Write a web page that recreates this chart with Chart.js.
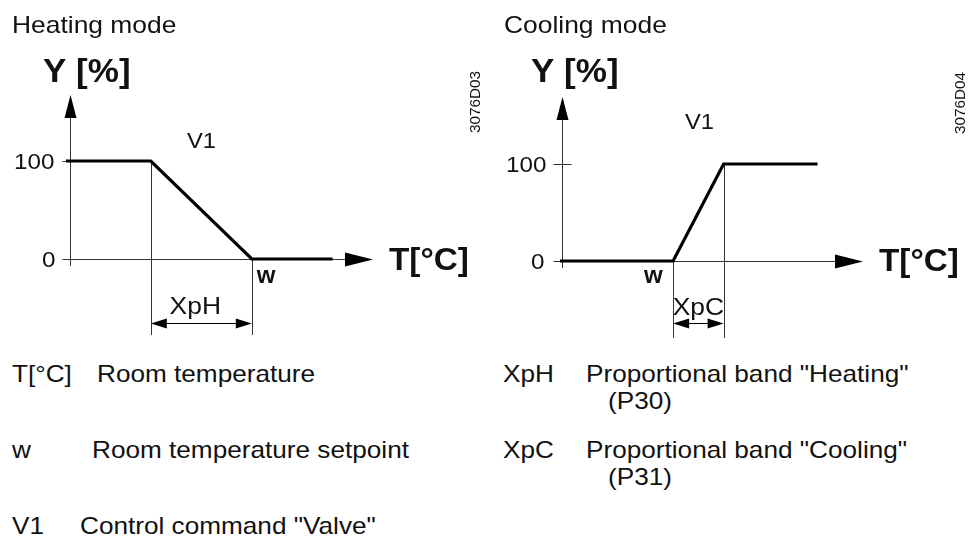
<!DOCTYPE html>
<html>
<head>
<meta charset="utf-8">
<script src="https://cdn.jsdelivr.net/npm/chart.js@4/dist/chart.umd.min.js"></script>
<style>
  html, body { margin: 0; padding: 0; background: #fff; width: 978px; height: 538px; overflow: hidden; }
  #wrap { position: relative; width: 978px; height: 538px; font-family: "Liberation Sans", Arial, sans-serif; color: #111; }
  #wrap canvas { position: absolute; top: 0; }
  .leg { position: absolute; font-size: 24px; line-height: 24px; white-space: nowrap; transform-origin: 0 0; transform: scaleX(1.09); }
</style>
</head>
<body>
<div id="wrap">
  <canvas id="heat" width="489" height="340" style="left:0"></canvas>
  <canvas id="cool" width="488" height="340" style="left:490px"></canvas>
</div>
<script>
// Valve command V1 (%) against room temperature, schematic temperature units
const heatTemp  = [-0.4, 8, 18, 26];
const heatValve = [100, 100, 0, 0];
const coolTemp  = [-0.2, 11, 16, 25.3];
const coolValve = [0, 0, 100, 100];

// Setpoint w and proportional bands
const heatBand = [8, 18];   // XpH ends at w
const coolBand = [11, 16];  // XpC starts at w

const yTicks = [0, 100];
const yTickLabels = ['0', '100'];

// Key below the diagrams
const keyLeftSymbols  = ['T[°C]', 'w', 'V1'];
const keyLeftTexts    = ['Room temperature', 'Room temperature setpoint', 'Control command "Valve"'];
const keyRightSymbols = ['XpH', 'XpC'];
const keyRightTexts   = ['Proportional band "Heating"', 'Proportional band "Cooling"'];
const keyRightParams  = ['(P30)', '(P31)'];

const X_MIN = -2, X_MAX = 32, Y_MIN = -20, Y_MAX = 180;
const FONT = '"Liberation Sans", Arial, sans-serif';
const INK = '#111';
const AXIS = '#333';

function text(ctx, s, x, y, font, align, sx) {
  ctx.save();
  ctx.font = font;
  ctx.fillStyle = INK;
  ctx.textAlign = align || 'left';
  ctx.textBaseline = 'alphabetic';
  ctx.translate(x, y);
  ctx.scale(sx || 1, 1);
  ctx.fillText(s, 0, 0);
  ctx.restore();
}

function tri(ctx, a, b, c) {
  ctx.beginPath();
  ctx.moveTo(a[0], a[1]); ctx.lineTo(b[0], b[1]); ctx.lineTo(c[0], c[1]);
  ctx.closePath();
  ctx.fill();
}

function decor(spec) {
  return {
    id: 'decor',
    beforeDatasetsDraw(chart) {
      const ctx = chart.ctx, xs = chart.scales.x, ys = chart.scales.y;
      const X = v => xs.getPixelForValue(v), Y = v => ys.getPixelForValue(v);
      const ax = Math.round(X(0)) + 0.5, ay = Math.round(Y(0)) + 0.5;
      ctx.save();
      ctx.strokeStyle = AXIS; ctx.fillStyle = '#000'; ctx.lineWidth = 1;

      // vertical axis with arrow
      const yTip = Y(100) - spec.yArrowAbove;
      ctx.beginPath(); ctx.moveTo(ax, Y(0) + 7); ctx.lineTo(ax, yTip + 20); ctx.stroke();
      tri(ctx, [ax, yTip], [ax - 6, yTip + 23], [ax + 6, yTip + 23]);

      // horizontal axis with arrow
      const xTip = X(spec.xTip);
      ctx.beginPath(); ctx.moveTo(X(spec.xAxisFrom), ay); ctx.lineTo(xTip - 24, ay); ctx.stroke();
      tri(ctx, [xTip, ay], [xTip - 28, ay - 7], [xTip - 28, ay + 7]);

      // tick marks and labels
      yTicks.forEach((v, i) => {
        const ty = Math.round(Y(v)) + 0.5;
        ctx.beginPath(); ctx.moveTo(ax + spec.tick[0], ty); ctx.lineTo(ax + spec.tick[1], ty); ctx.stroke();
        text(ctx, yTickLabels[i], ax + spec.tickLabelDx[i], Y(v) + 8, '22px ' + FONT, 'right', 1.1);
      });

      // guide lines bounding the proportional band
      spec.band.forEach(t => {
        const gx = Math.round(X(t)) + 0.5;
        const v = spec.valve[spec.temp.indexOf(t)];
        ctx.beginPath(); ctx.moveTo(gx, Y(v)); ctx.lineTo(gx, spec.guideBottom); ctx.stroke();
      });
      ctx.restore();
    },
    afterDatasetsDraw(chart) {
      const ctx = chart.ctx, xs = chart.scales.x;
      const X = v => xs.getPixelForValue(v);
      ctx.save();
      ctx.fillStyle = '#000'; ctx.strokeStyle = '#000'; ctx.lineWidth = 1;

      // dimension arrow for the band
      const x1 = X(spec.band[0]), x2 = X(spec.band[1]), dy = spec.dimY + 0.5;
      ctx.beginPath(); ctx.moveTo(x1 + 10, dy); ctx.lineTo(x2 - 10, dy); ctx.stroke();
      tri(ctx, [x1, dy], [x1 + 16, dy - 5], [x1 + 16, dy + 5]);
      tri(ctx, [x2, dy], [x2 - 16, dy - 5], [x2 - 16, dy + 5]);
      text(ctx, spec.bandLabel, (x1 + x2) / 2 + spec.bandLabelDx, spec.bandLabelY, '24px ' + FONT, 'center', 1.1);

      // titles and labels
      text(ctx, spec.title, spec.titleX, 33, '24px ' + FONT, 'left', 1.1);
      text(ctx, 'Y [%]', spec.yTitleX, 82, 'bold 34px ' + FONT, 'left', 1.03);
      text(ctx, 'T[°C]', spec.xTitleX, spec.xTitleY, 'bold 32px ' + FONT, 'left', 1.04);
      text(ctx, 'V1', spec.v1[0], spec.v1[1], '22px ' + FONT, 'left', 1.08);
      text(ctx, 'w', X(spec.setpoint) + spec.wDx, 283, 'bold 24px ' + FONT, 'left', 1);

      // drawing number, rotated
      ctx.save();
      ctx.translate(spec.code[1], spec.code[2]);
      ctx.rotate(-Math.PI / 2);
      text(ctx, spec.code[0], 0, 5, '15px ' + FONT, 'center', 1.02);
      ctx.restore();
      ctx.restore();
    }
  };
}

function panelChart(id, spec) {
  const cv = document.getElementById(id);
  const W = cv.width, H = cv.height;
  const yu = (spec.y0 - spec.y100) / 100;
  const pad = {
    left: spec.x0 + X_MIN * spec.xu,
    right: W - (spec.x0 + X_MAX * spec.xu),
    top: spec.y0 - Y_MAX * yu,
    bottom: H - (spec.y0 - Y_MIN * yu)
  };
  return new Chart(cv, {
    type: 'line',
    data: {
      datasets: [{
        data: spec.temp.map((t, i) => ({ x: t, y: spec.valve[i] })),
        borderColor: '#000',
        borderWidth: 3.2,
        borderJoinStyle: 'miter',
        borderCapStyle: 'butt',
        pointRadius: 0,
        tension: 0,
        fill: false
      }]
    },
    options: {
      responsive: false,
      animation: false,
      devicePixelRatio: 1,
      events: [],
      layout: { padding: pad },
      plugins: { legend: { display: false }, tooltip: { enabled: false } },
      scales: {
        x: { type: 'linear', min: X_MIN, max: X_MAX, display: false },
        y: { type: 'linear', min: Y_MIN, max: Y_MAX, display: false }
      }
    },
    plugins: [decor(spec)]
  });
}

panelChart('heat', {
  temp: heatTemp, valve: heatValve, band: heatBand, setpoint: heatBand[1],
  x0: 70, xu: 10.1, y0: 259, y100: 161,
  yArrowAbove: 66, xTip: 30, xAxisFrom: -0.6,
  tick: [-8, 0], tickLabelDx: [-15, -16],
  guideBottom: 335, dimY: 323,
  bandLabel: 'XpH', bandLabelDx: -6, bandLabelY: 314,
  title: 'Heating mode', titleX: 12, yTitleX: 43,
  xTitleX: 389, xTitleY: 270, v1: [187, 148], wDx: 5,
  code: ['3076D03', 475, 102]
});

panelChart('cool', {
  temp: coolTemp, valve: coolValve, band: coolBand, setpoint: coolBand[0],
  x0: 72, xu: 10.1, y0: 261, y100: 164,
  yArrowAbove: 67, xTip: 29.8, xAxisFrom: -0.4,
  tick: [-9, 9], tickLabelDx: [-18, -16],
  guideBottom: 338, dimY: 323,
  bandLabel: 'XpC', bandLabelDx: 0, bandLabelY: 315,
  title: 'Cooling mode', titleX: 14, yTitleX: 41,
  xTitleX: 389, xTitleY: 271, v1: [195, 129], wDx: -29,
  code: ['3076D04', 470, 103]
});

// key below the diagrams
const wrap = document.getElementById('wrap');
function keyItem(s, left, baseline) {
  const d = document.createElement('div');
  d.className = 'leg';
  d.textContent = s;
  d.style.left = left + 'px';
  d.style.top = (baseline - 20) + 'px';
  wrap.appendChild(d);
}
const keyRows = [382, 458, 534];
const keyTextLeft = [97, 92, 80];
keyLeftSymbols.forEach((s, i) => {
  keyItem(s, 12, keyRows[i]);
  keyItem(keyLeftTexts[i], keyTextLeft[i], keyRows[i]);
});
keyRightSymbols.forEach((s, i) => {
  keyItem(s, 503, keyRows[i]);
  keyItem(keyRightTexts[i], 586, keyRows[i]);
  keyItem(keyRightParams[i], 608, keyRows[i] + 27);
});
</script>
</body>
</html>
